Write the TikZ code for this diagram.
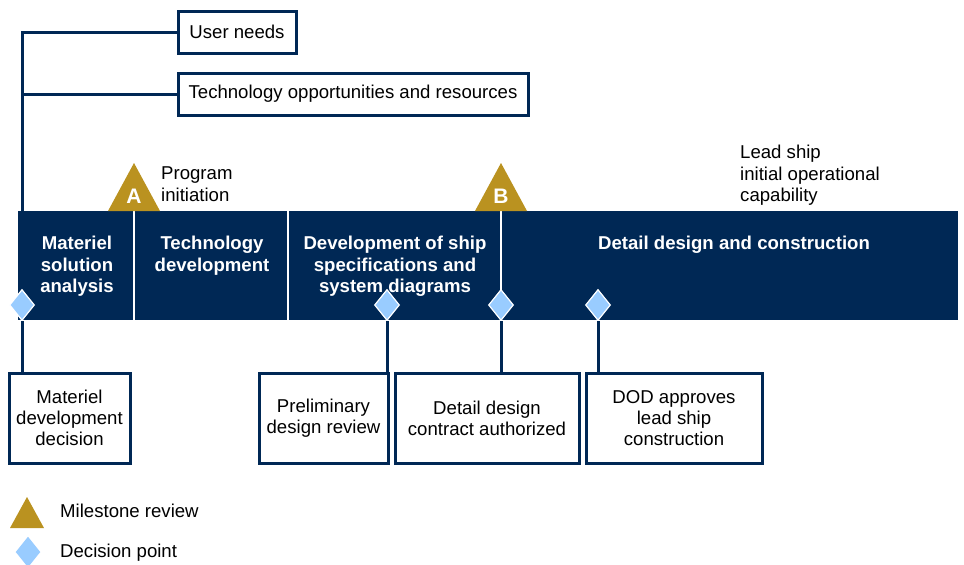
\documentclass[tikz,border=0pt]{standalone}
\usepackage{fontspec}
\setmainfont{Liberation Sans}
\usetikzlibrary{shapes.geometric}
\definecolor{navy}{RGB}{0,40,85}
\definecolor{gold}{RGB}{186,146,32}
\definecolor{lblue}{RGB}{153,204,255}
\begin{document}
\begin{tikzpicture}[x=1pt,y=-1pt,
 box/.style={draw=navy,line width=3pt,fill=white,inner sep=0pt,align=center,font=\fontsize{18.6}{21}\selectfont},
 phase/.style={text=white,font=\bfseries\fontsize{18.6}{21.5}\selectfont,align=center,inner sep=0pt},
 lbl/.style={font=\fontsize{18.6}{21.5}\selectfont,align=left,anchor=west,inner sep=0pt},
 dp/.style={diamond,fill=lblue,draw=white,line width=1.2pt,minimum width=25pt,minimum height=31pt,inner sep=0pt},
 conn/.style={draw=navy,line width=3pt},
 divline/.style={draw=white,line width=2pt},
 letter/.style={text=white,font=\bfseries\fontsize{21}{21}\selectfont,inner sep=0pt}]
\useasboundingbox (0,0) rectangle (964,565);
\fill[white] (0,0) rectangle (964,565);

% top boxes and left line
\node[box,minimum width=118pt,minimum height=42pt] (un) at (237,32) {User needs};
\node[box,minimum width=350pt,minimum height=42pt] (tech) at (353,94) {Technology opportunities and resources};
\coordinate (topL) at (22,32);
\coordinate (midL) at (22,94);
\coordinate (barL) at (22,212);
\draw[conn] (barL) -- (topL) -- (un.west);
\draw[conn] (midL) -- (tech.west);

% bar
\node[fill=navy,minimum width=940pt,minimum height=109pt,inner sep=0pt,anchor=north west] (bar) at (18,211) {};
\draw[divline] (134,211) -- (134,320);
\draw[divline] (288,211) -- (288,320);
\draw[divline] (501,211) -- (501,305);

\node[phase] (p1) at (77,266.5) {Materiel\\solution\\analysis};
\node[phase] (p2) at (212,255.5) {Technology\\development};
\node[phase] (p3) at (395,266.5) {Development of ship\\specifications and\\system diagrams};
\node[phase] (p4) at (734,245) {Detail design and construction};

% milestones
\fill[gold] (134,163) -- (160,211) -- (108,211) -- cycle;
\node[letter] (la) at (134,196) {A};
\fill[gold] (501,163) -- (527,211) -- (475,211) -- cycle;
\node[letter] (lb) at (501,196) {B};
\node[lbl,anchor=north west] (prog) at (161,167) {Program\\initiation};
\node[lbl,anchor=north west] (lead) at (740,145) {Lead ship\\initial operational\\capability};

% decision boxes
\node[box,minimum width=121pt,minimum height=90pt] (b1) at (69.5,418) {Materiel\\development\\decision};
\node[box,minimum width=129pt,minimum height=90pt] (b2) at (323.5,418) {Preliminary\\design review};
\node[box,minimum width=184pt,minimum height=90pt] (b3) at (487,418) {Detail design\\contract authorized};
\node[box,minimum width=176pt,minimum height=90pt] (b4) at (674,418) {DOD approves\\lead ship\\construction};

% diamonds and their connectors
\node[dp] (d1) at (22,305) {};
\node[dp] (d2) at (387,305) {};
\node[dp] (d3) at (501,305) {};
\node[dp] (d4) at (598,305) {};
\draw[conn] (d1.south) -- (d1.south |- b1.north);
\draw[conn] (d2.south) -- (d2.south |- b2.north);
\draw[conn] (d3.south) -- (d3.south |- b3.north);
\draw[conn] (d4.south) -- (d4.south |- b4.north);

% legend
\fill[gold] (27,497) -- (44,528) -- (10,528) -- cycle;
\node[lbl] (lg1) at (60,511) {Milestone review};
\node[dp,draw=none] (lgd) at (28,552) {};
\node[lbl] (lg2) at (60,553) {Decision point};
\end{tikzpicture}
\end{document}
